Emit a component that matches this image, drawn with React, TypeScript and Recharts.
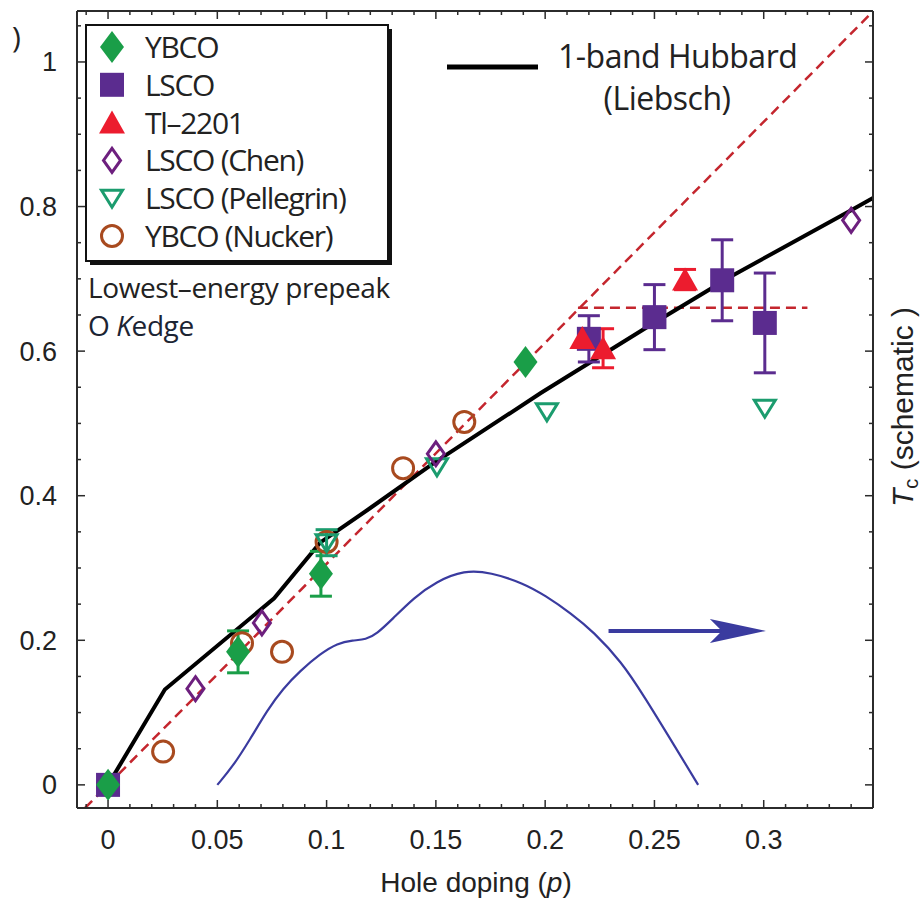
import React from "react";
import { ComposedChart, Line, Scatter, ErrorBar, XAxis, YAxis } from "recharts";

// axis ticks (minor every 0.01 / 0.05, labels only on the majors)
const X_TICKS = [
  -0.01, 0, 0.01, 0.02, 0.03, 0.04, 0.05, 0.06, 0.07, 0.08, 0.09, 0.1, 0.11, 0.12, 0.13, 0.14, 0.15,
  0.16, 0.17, 0.18, 0.19, 0.2, 0.21, 0.22, 0.23, 0.24, 0.25, 0.26, 0.27, 0.28, 0.29, 0.3, 0.31, 0.32,
  0.33, 0.34
];
const X_LABELS = [0, 0.05, 0.1, 0.15, 0.2, 0.25, 0.3];
const Y_TICKS = [
  0, 0.05, 0.1, 0.15, 0.2, 0.25, 0.3, 0.35, 0.4, 0.45, 0.5, 0.55, 0.6, 0.65, 0.7, 0.75, 0.8, 0.85, 0.9,
  0.95, 1, 1.05
];
const Y_LABELS = [0, 0.2, 0.4, 0.6, 0.8, 1];

// measured points
const ybco = [
  { x: 0, y: 0 },
  { x: 0.0595, y: 0.184, err: 0.029 },
  { x: 0.0974, y: 0.292, err: 0.031 },
  { x: 0.191, y: 0.585 }
];
const lsco = [
  { x: 0, y: 0 },
  { x: 0.22, y: 0.617, err: 0.032 },
  { x: 0.25, y: 0.647, err: 0.045 },
  { x: 0.281, y: 0.698, err: 0.056 },
  { x: 0.3005, y: 0.639, err: 0.069 }
];
const tl2201 = [
  { x: 0.217, y: 0.618 },
  { x: 0.2265, y: 0.604, err: 0.027 },
  { x: 0.264, y: 0.699, err: 0.014 }
];
const lscoChen = [
  { x: 0.04, y: 0.133 },
  { x: 0.0704, y: 0.224 },
  { x: 0.15, y: 0.458 },
  { x: 0.34, y: 0.781 }
];
const lscoPellegrin = [
  { x: 0.1, y: 0.335, err: 0.018 },
  { x: 0.1505, y: 0.44 },
  { x: 0.2008, y: 0.516 },
  { x: 0.3005, y: 0.521 }
];
const ybcoNucker = [
  { x: 0, y: 0 },
  { x: 0.0252, y: 0.046 },
  { x: 0.0613, y: 0.196 },
  { x: 0.0796, y: 0.184 },
  { x: 0.1, y: 0.336 },
  { x: 0.135, y: 0.438 },
  { x: 0.163, y: 0.502 }
];

// curves
const hubbard = [
  { x: 0, y: 0 },
  { x: 0.026, y: 0.132 },
  { x: 0.076, y: 0.258 },
  { x: 0.097, y: 0.335 },
  { x: 0.12, y: 0.383 },
  { x: 0.149, y: 0.445 },
  { x: 0.198, y: 0.542 },
  { x: 0.246, y: 0.632 },
  { x: 0.286, y: 0.705 },
  { x: 0.34, y: 0.795 },
  { x: 0.35, y: 0.812 }
];
const diagonal = [
  { x: -0.0105, y: -0.032 },
  { x: 0.35, y: 1.07 }
];
const plateau = [
  { x: 0.215, y: 0.66 },
  { x: 0.32, y: 0.66 }
];
const tcDome = [
  { x: 0.05, y: 0 },
  { x: 0.057, y: 0.025 },
  { x: 0.065, y: 0.063 },
  { x: 0.073, y: 0.104 },
  { x: 0.08, y: 0.133 },
  { x: 0.088, y: 0.158 },
  { x: 0.097, y: 0.181 },
  { x: 0.105, y: 0.196 },
  { x: 0.112, y: 0.2 },
  { x: 0.118, y: 0.201 },
  { x: 0.123, y: 0.209 },
  { x: 0.13, y: 0.229 },
  { x: 0.14, y: 0.259 },
  { x: 0.15, y: 0.281 },
  { x: 0.163, y: 0.297 },
  { x: 0.175, y: 0.294 },
  { x: 0.19, y: 0.279 },
  { x: 0.2, y: 0.262 },
  { x: 0.212, y: 0.237 },
  { x: 0.222, y: 0.212 },
  { x: 0.235, y: 0.17 },
  { x: 0.245, y: 0.124 },
  { x: 0.26, y: 0.05 },
  { x: 0.27, y: 0 }
];
const arrowShaft = [
  { x: 0.229, y: 0.213 },
  { x: 0.285, y: 0.213 }
];
const arrowTip = [{ x: 0.301, y: 0.213 }];

const AXIS = "#2b2b2b";
const TXT = "#222";
const C_YBCO = "#1a9e48";
const C_LSCO = "#5b2c8f";
const C_TL = "#ec1c2e";
const C_CHEN = "#6d1f7e";
const C_PELL = "#1b9c6e";
const C_NUCK = "#a84a1f";
const C_BLUE = "#3a3b9f";
const C_RED = "#c4262e";

const TICK_FONT = '"Liberation Sans", Arial, sans-serif';
const LABEL_FONT = '"Open Sans", "Noto Sans", sans-serif';

type Kind = "diamond" | "square" | "triangle" | "oDiamond" | "oTriangle" | "circle";

function marker(kind: Kind, cx: number, cy: number, color: string) {
  switch (kind) {
    case "diamond":
      return <path d={`M${cx},${cy - 16}L${cx + 12},${cy}L${cx},${cy + 16}L${cx - 12},${cy}Z`} fill={color} />;
    case "square":
      return <rect x={cx - 12} y={cy - 12} width={24} height={24} fill={color} />;
    case "triangle":
      return <path d={`M${cx},${cy - 12}L${cx + 13},${cy + 11}L${cx - 13},${cy + 11}Z`} fill={color} />;
    case "oDiamond":
      return (
        <path
          d={`M${cx},${cy - 12}L${cx + 8.5},${cy}L${cx},${cy + 12}L${cx - 8.5},${cy}Z`}
          fill="none"
          stroke={color}
          strokeWidth={3}
        />
      );
    case "oTriangle":
      return (
        <path
          d={`M${cx - 10.5},${cy - 8}L${cx + 10.5},${cy - 8}L${cx},${cy + 9}Z`}
          fill="none"
          stroke={color}
          strokeWidth={3}
        />
      );
    default:
      return <circle cx={cx} cy={cy} r={10.5} fill="none" stroke={color} strokeWidth={3} />;
  }
}

const shapeOf = (kind: Kind, color: string) => (p: any) => marker(kind, p.cx, p.cy, color);

const arrowHead = (p: any) => (
  <path
    d={`M${p.cx},${p.cy}L${p.cx - 56},${p.cy - 12}L${p.cx - 44},${p.cy}L${p.cx - 56},${p.cy + 12}Z`}
    fill={C_BLUE}
  />
);

const isIn = (v: number, list: number[]) => list.some((t) => Math.abs(t - v) < 1e-9);

function BottomTick(p: any) {
  const major = isIn(p.payload.value, X_LABELS);
  return (
    <g>
      <line x1={p.x} x2={p.x} y1={p.y} y2={p.y - (major ? 8 : 4)} stroke={AXIS} strokeWidth={1.5} />
      {major && (
        <text x={p.x} y={p.y + 41} textAnchor="middle" fontFamily={TICK_FONT} fontSize={27} fill={TXT}>
          {String(p.payload.value)}
        </text>
      )}
    </g>
  );
}

function TopTick(p: any) {
  const major = isIn(p.payload.value, X_LABELS);
  return <line x1={p.x} x2={p.x} y1={p.y} y2={p.y + (major ? 8 : 4)} stroke={AXIS} strokeWidth={1.5} />;
}

function LeftTick(p: any) {
  const major = isIn(p.payload.value, Y_LABELS);
  return (
    <g>
      <line x1={p.x} x2={p.x + (major ? 8 : 4)} y1={p.y} y2={p.y} stroke={AXIS} strokeWidth={1.5} />
      {major && (
        <text x={p.x - 20} y={p.y + 9.5} textAnchor="end" fontFamily={TICK_FONT} fontSize={27} fill={TXT}>
          {String(p.payload.value)}
        </text>
      )}
    </g>
  );
}

function RightTick(p: any) {
  const major = isIn(p.payload.value, Y_LABELS);
  return <line x1={p.x} x2={p.x - (major ? 8 : 4)} y1={p.y} y2={p.y} stroke={AXIS} strokeWidth={1.5} />;
}

const LEGEND: Array<[string, Kind, string]> = [
  ["YBCO", "diamond", C_YBCO],
  ["LSCO", "square", C_LSCO],
  ["Tl–2201", "triangle", C_TL],
  ["LSCO (Chen)", "oDiamond", C_CHEN],
  ["LSCO (Pellegrin)", "oTriangle", C_PELL],
  ["YBCO (Nucker)", "circle", C_NUCK]
];

const X_DOMAIN = [-0.0142, 0.35];
const Y_DOMAIN = [-0.032, 1.0705];

export default function App() {
  const axisLine = { stroke: AXIS, strokeWidth: 2 };
  return (
    <div style={{ position: "absolute", left: 0, top: 0, width: 921, height: 899, background: "#fff" }}>
      <ComposedChart width={921} height={899} margin={{ top: 10, right: 0, bottom: 0, left: 0 }}>
        <XAxis
          dataKey="x"
          type="number"
          domain={X_DOMAIN}
          allowDataOverflow
          ticks={X_TICKS}
          interval={0}
          tickLine={false}
          tickSize={0}
          tickMargin={0}
          tick={BottomTick}
          height={91}
          axisLine={axisLine}
        />
        <XAxis
          xAxisId="top"
          orientation="top"
          dataKey="x"
          type="number"
          domain={X_DOMAIN}
          allowDataOverflow
          ticks={X_TICKS}
          interval={0}
          tickLine={false}
          tickSize={0}
          tickMargin={0}
          tick={TopTick}
          height={1}
          axisLine={axisLine}
        />
        <YAxis
          dataKey="y"
          type="number"
          domain={Y_DOMAIN}
          allowDataOverflow
          ticks={Y_TICKS}
          interval={0}
          tickLine={false}
          tickSize={0}
          tickMargin={0}
          tick={LeftTick}
          width={77}
          axisLine={axisLine}
        />
        <YAxis
          yAxisId="right"
          orientation="right"
          dataKey="y"
          type="number"
          domain={Y_DOMAIN}
          allowDataOverflow
          ticks={Y_TICKS}
          interval={0}
          tickLine={false}
          tickSize={0}
          tickMargin={0}
          tick={RightTick}
          width={48}
          axisLine={axisLine}
        />

        {/* curves */}
        <Line data={tcDome} dataKey="y" type="basis" stroke={C_BLUE} strokeWidth={2.2} dot={false} activeDot={false} isAnimationActive={false} />
        <Line data={arrowShaft} dataKey="y" type="linear" stroke={C_BLUE} strokeWidth={4} dot={false} activeDot={false} isAnimationActive={false} />
        <Scatter data={arrowTip} shape={arrowHead} isAnimationActive={false} />
        <Line data={diagonal} dataKey="y" type="linear" stroke={C_RED} strokeWidth={2.5} strokeDasharray="10 6" dot={false} activeDot={false} isAnimationActive={false} />
        <Line data={plateau} dataKey="y" type="linear" stroke={C_RED} strokeWidth={2.5} strokeDasharray="10 6" dot={false} activeDot={false} isAnimationActive={false} />
        <Line data={hubbard} dataKey="y" type="linear" stroke="#000" strokeWidth={4} dot={false} activeDot={false} isAnimationActive={false} />

        {/* data sets */}
        <Scatter data={ybcoNucker} shape={shapeOf("circle", C_NUCK)} isAnimationActive={false} />
        <Scatter data={lscoPellegrin} shape={shapeOf("oTriangle", C_PELL)} isAnimationActive={false}>
          <ErrorBar dataKey="err" direction="y" width={11} stroke={C_PELL} strokeWidth={3} />
        </Scatter>
        <Scatter data={lscoChen} shape={shapeOf("oDiamond", C_CHEN)} isAnimationActive={false} />
        <Scatter data={lsco} shape={shapeOf("square", C_LSCO)} isAnimationActive={false}>
          <ErrorBar dataKey="err" direction="y" width={11} stroke={C_LSCO} strokeWidth={3} />
        </Scatter>
        <Scatter data={tl2201} shape={shapeOf("triangle", C_TL)} isAnimationActive={false}>
          <ErrorBar dataKey="err" direction="y" width={11} stroke={C_TL} strokeWidth={3} />
        </Scatter>
        <Scatter data={ybco} shape={shapeOf("diamond", C_YBCO)} isAnimationActive={false}>
          <ErrorBar dataKey="err" direction="y" width={11} stroke={C_YBCO} strokeWidth={3} />
        </Scatter>
      </ComposedChart>

      {/* legend and annotations */}
      <svg width={921} height={899} style={{ position: "absolute", left: 0, top: 0, pointerEvents: "none" }}>
        <text x={12} y={48} fontFamily={LABEL_FONT} fontSize={30} fill={TXT}>)</text>

        <rect x={90} y={29} width={302} height={236} fill="#111" />
        <rect x={86} y={25} width={302} height={236} fill="#fff" stroke="#111" strokeWidth={2} />
        {LEGEND.map(([label, kind, color], i) => {
          const cy = 47 + i * 37.8;
          return (
            <g key={label}>
              {marker(kind, 112, cy, color)}
              <text x={145} y={cy + 11} fontFamily={LABEL_FONT} fontSize={30} letterSpacing={-1.3} fill={TXT}>
                {label}
              </text>
            </g>
          );
        })}

        <text x={88} y={298} fontFamily={LABEL_FONT} fontSize={28} letterSpacing={-0.4} fill={TXT}>
          Lowest–energy prepeak
        </text>
        <text x={88} y={336} fontFamily={LABEL_FONT} fontSize={28} letterSpacing={-0.4} fill="#1c2433">
          O <tspan fontStyle="italic">K</tspan>edge
        </text>

        <line x1={447} x2={538} y1={67} y2={67} stroke="#000" strokeWidth={5} />
        <text x={558} y={68} fontFamily={LABEL_FONT} fontSize={32} letterSpacing={-0.5} fill={TXT}>
          1-band Hubbard
        </text>
        <text x={667} y={110} textAnchor="middle" fontFamily={LABEL_FONT} fontSize={32} letterSpacing={-0.5} fill={TXT}>
          (Liebsch)
        </text>

        <text x={476} y={892} textAnchor="middle" fontFamily={TICK_FONT} fontSize={28} fill={TXT}>
          Hole doping (<tspan fontStyle="italic">p</tspan>)
        </text>
        <text transform="translate(913,407) rotate(-90)" textAnchor="middle" fontFamily={TICK_FONT} fontSize={30} fill={TXT}>
          <tspan fontStyle="italic">T</tspan>
          <tspan fontSize={20} dy={5}>c</tspan>
          <tspan dy={-5}> (schematic )</tspan>
        </text>
      </svg>
    </div>
  );
}
